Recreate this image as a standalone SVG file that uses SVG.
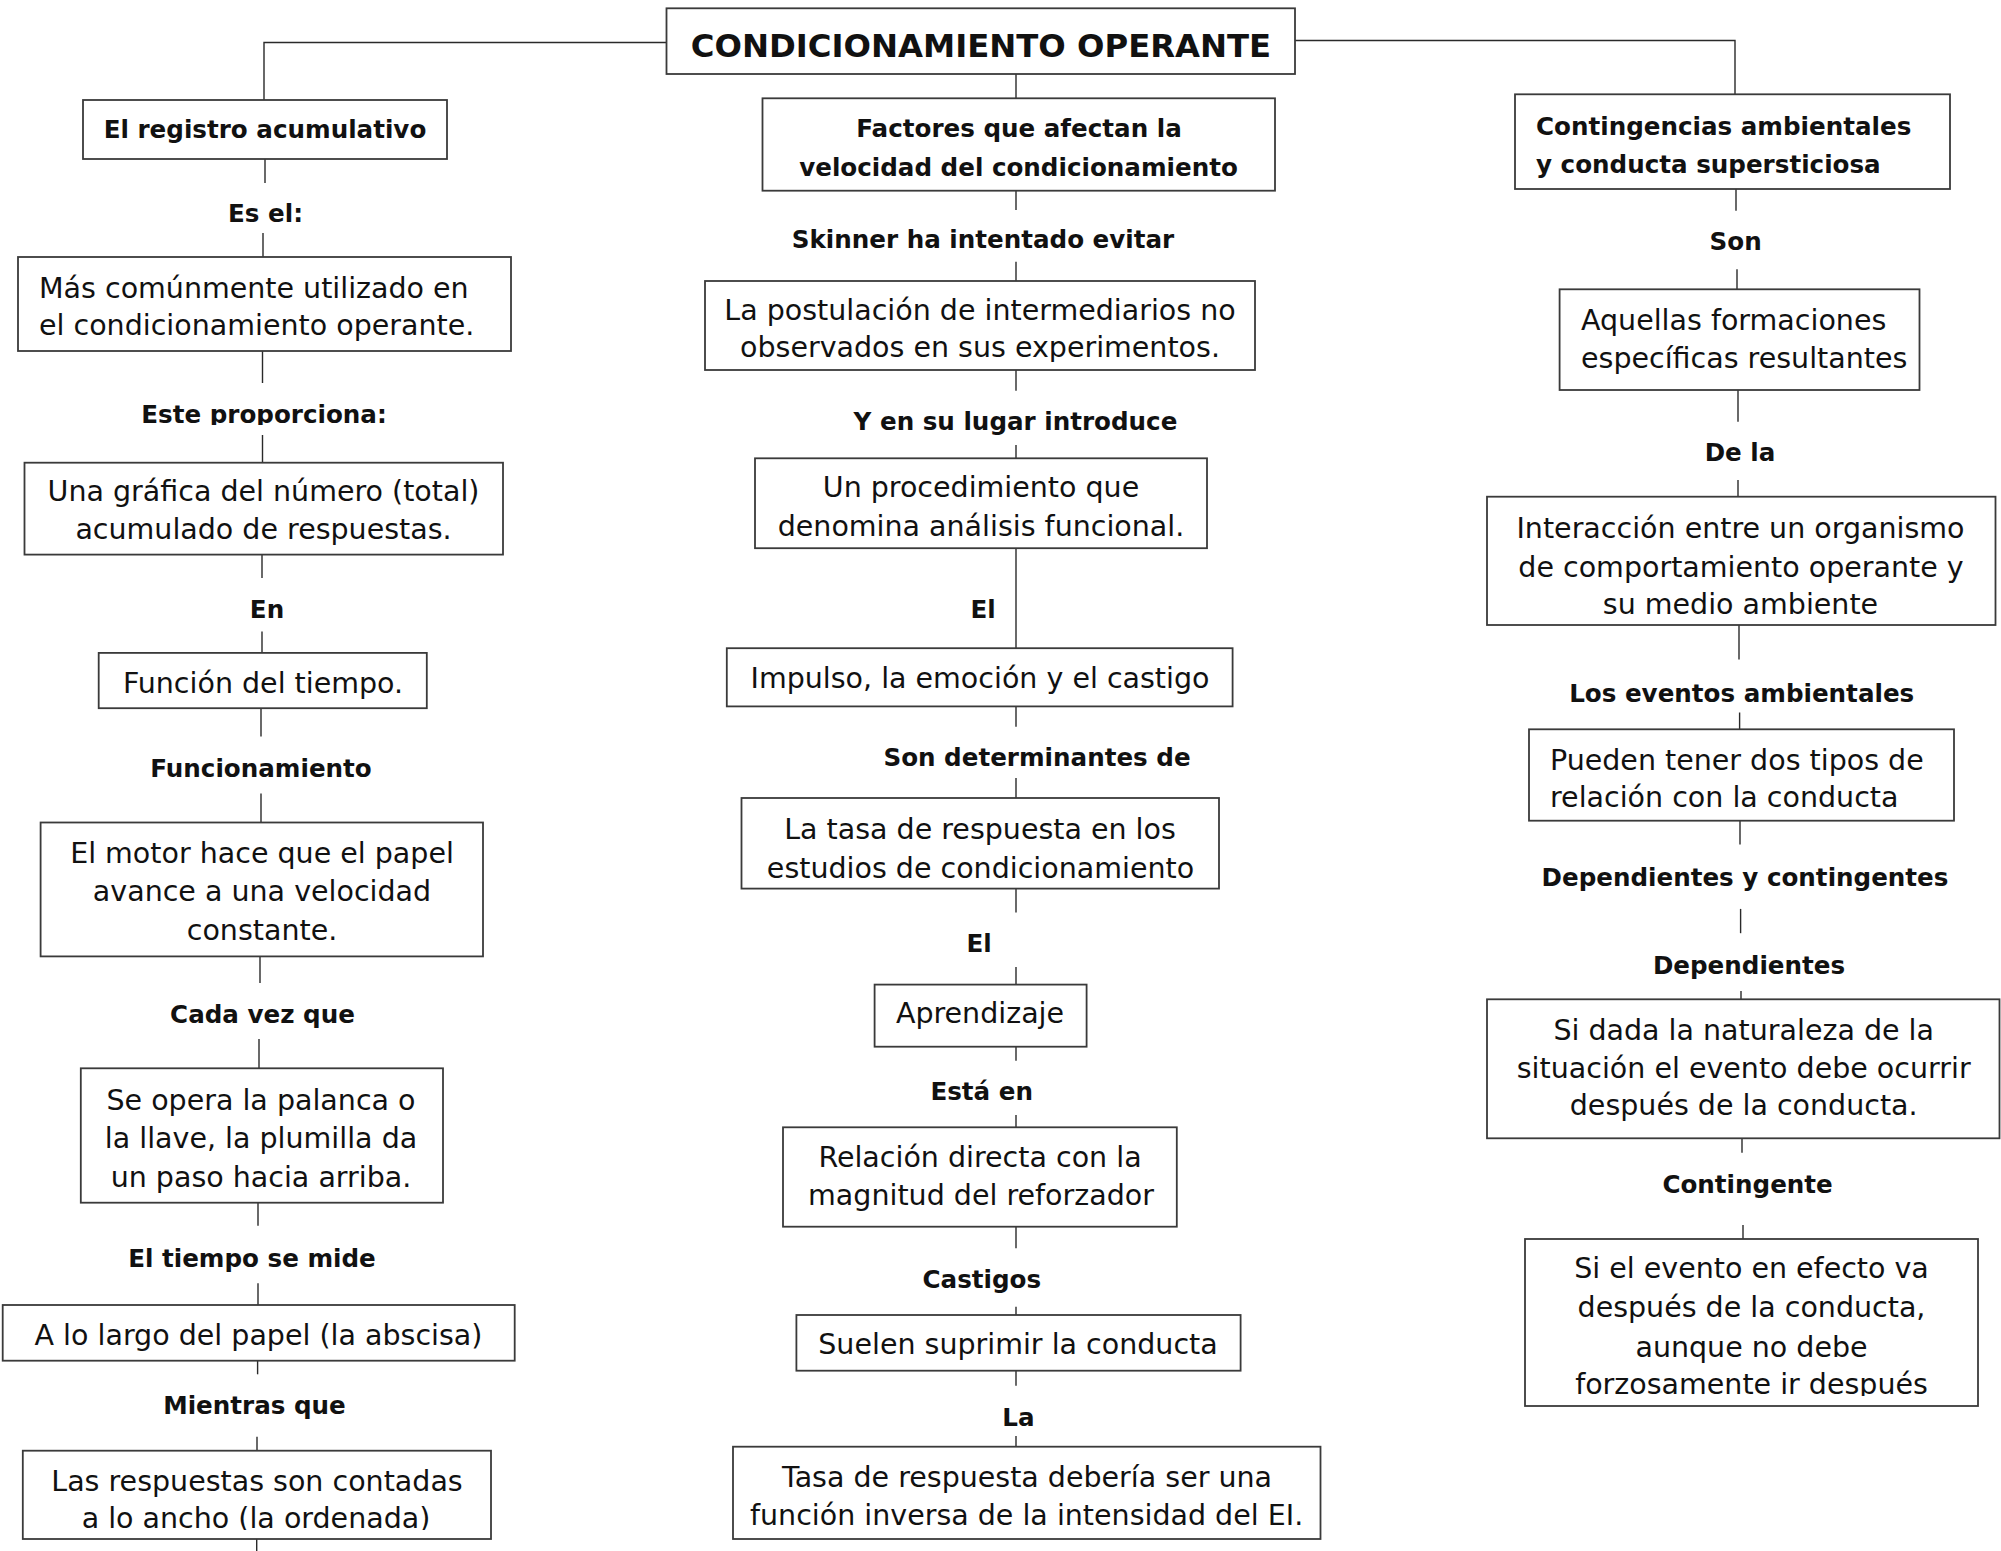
<svg xmlns="http://www.w3.org/2000/svg" width="2001" height="1551" viewBox="0 0 2001 1551">
<style>
.box{fill:#fff;stroke:#3a3a3a;stroke-width:1.8}
.r{font-family:"DejaVu Sans","Liberation Sans",sans-serif;font-size:28.5px;fill:#111}
.b{font-family:"DejaVu Sans","Liberation Sans",sans-serif;font-size:24.6px;font-weight:bold;fill:#111}
.ttl{font-family:"DejaVu Sans","Liberation Sans",sans-serif;font-size:32.3px;font-weight:bold;fill:#111}
.c{text-anchor:middle}
#connectors line,#connectors polyline{stroke:#2a2a2a;stroke-width:1.4;fill:none}
</style>
<defs>
<clipPath id="clipEste"><rect x="0" y="380" width="520" height="45"/></clipPath>
<clipPath id="clipObs"><rect x="700" y="281" width="560" height="81"/></clipPath>
<clipPath id="clipAncho"><rect x="20" y="1450" width="475" height="80"/></clipPath>
<clipPath id="clipForz"><rect x="1520" y="1239" width="460" height="157"/></clipPath>
</defs>
<rect width="2001" height="1551" fill="#fff"/>
<g id="connectors">
<polyline points="264,100 264,42.5 666.5,42.5"/>
<polyline points="1295,40.5 1735,40.5 1735,94.3"/>
<line x1="265" y1="159" x2="265" y2="183"/>
<line x1="263" y1="233" x2="263" y2="257"/>
<line x1="262.5" y1="351" x2="262.5" y2="383"/>
<line x1="262.5" y1="435" x2="262.5" y2="462.7"/>
<line x1="262" y1="554.6" x2="262" y2="578"/>
<line x1="262" y1="631.4" x2="262" y2="653"/>
<line x1="261" y1="708.2" x2="261" y2="736.4"/>
<line x1="261" y1="793.6" x2="261" y2="822.5"/>
<line x1="260" y1="956.4" x2="260" y2="983"/>
<line x1="259" y1="1039" x2="259" y2="1068.3"/>
<line x1="258" y1="1202.7" x2="258" y2="1225.7"/>
<line x1="258" y1="1283.3" x2="258" y2="1305"/>
<line x1="257.6" y1="1360.7" x2="257.6" y2="1374.3"/>
<line x1="257" y1="1436.7" x2="257" y2="1450.7"/>
<line x1="256.7" y1="1539" x2="256.7" y2="1551"/>
<line x1="1016" y1="74" x2="1016" y2="98.3"/>
<line x1="1016" y1="190.7" x2="1016" y2="210"/>
<line x1="1016" y1="261.7" x2="1016" y2="281"/>
<line x1="1016" y1="370" x2="1016" y2="390.7"/>
<line x1="1016" y1="445" x2="1016" y2="458.3"/>
<line x1="1016" y1="548.2" x2="1016" y2="648.2"/>
<line x1="1016" y1="706.4" x2="1016" y2="726.8"/>
<line x1="1016" y1="777.9" x2="1016" y2="798"/>
<line x1="1016" y1="888.6" x2="1016" y2="912.5"/>
<line x1="1016" y1="967" x2="1016" y2="984.6"/>
<line x1="1016" y1="1046.7" x2="1016" y2="1060.7"/>
<line x1="1016" y1="1115" x2="1016" y2="1127.3"/>
<line x1="1016" y1="1226.7" x2="1016" y2="1248.3"/>
<line x1="1016" y1="1306.7" x2="1016" y2="1315"/>
<line x1="1016" y1="1370.7" x2="1016" y2="1385.7"/>
<line x1="1016" y1="1436" x2="1016" y2="1446.7"/>
<line x1="1736" y1="189" x2="1736" y2="210.7"/>
<line x1="1737" y1="269.3" x2="1737" y2="289.3"/>
<line x1="1738" y1="390" x2="1738" y2="421.7"/>
<line x1="1738" y1="480" x2="1738" y2="496.7"/>
<line x1="1739" y1="625" x2="1739" y2="659.6"/>
<line x1="1739.6" y1="712.5" x2="1739.6" y2="729.3"/>
<line x1="1740" y1="820.7" x2="1740" y2="844.6"/>
<line x1="1740.6" y1="908.9" x2="1740.6" y2="933.2"/>
<line x1="1741" y1="991" x2="1741" y2="999.3"/>
<line x1="1742" y1="1138.3" x2="1742" y2="1152.7"/>
<line x1="1743" y1="1225" x2="1743" y2="1239"/>
</g>
<g id="title"><rect class="box" x="666.5" y="8.3" width="628.5" height="65.7"/><text class="ttl c" x="981" y="56.5">CONDICIONAMIENTO OPERANTE</text></g>
<!-- left column -->
<g id="n-registro"><rect class="box" x="83" y="100" width="364" height="59"/><text class="b c" x="265" y="138.3">El registro acumulativo</text></g>
<g id="l-esel"><text class="b c" x="265.5" y="221.7">Es el:</text></g>
<g id="n-mas"><rect class="box" x="18" y="257" width="493" height="94"/><text class="r" x="39" y="297.7">Más comúnmente utilizado en</text><text class="r" x="39" y="335">el condicionamiento operante.</text></g>
<g id="l-este"><text class="b c" x="264" y="422.7" clip-path="url(#clipEste)">Este proporciona:</text></g>
<g id="n-grafica"><rect class="box" x="24.5" y="462.7" width="478.5" height="91.9"/><text class="r c" x="263.5" y="501">Una gráfica del número (total)</text><text class="r c" x="263.5" y="539">acumulado de respuestas.</text></g>
<g id="l-en"><text class="b c" x="267" y="617.9">En</text></g>
<g id="n-funcion"><rect class="box" x="98.7" y="652.9" width="328.1" height="55.3"/><text class="r c" x="263" y="692.9">Función del tiempo.</text></g>
<g id="l-funcionamiento"><text class="b c" x="261" y="776.8">Funcionamiento</text></g>
<g id="n-motor"><rect class="box" x="40.6" y="822.5" width="442.4" height="133.9"/><text class="r c" x="262" y="862.5">El motor hace que el papel</text><text class="r c" x="262" y="901">avance a una velocidad</text><text class="r c" x="262" y="940.4">constante.</text></g>
<g id="l-cada"><text class="b c" x="262.5" y="1022.5">Cada vez que</text></g>
<g id="n-opera"><rect class="box" x="80.8" y="1068.3" width="362.2" height="134.4"/><text class="r c" x="261" y="1110">Se opera la palanca o</text><text class="r c" x="261" y="1148.3">la llave, la plumilla da</text><text class="r c" x="261" y="1186.7">un paso hacia arriba.</text></g>
<g id="l-tiempo"><text class="b c" x="252" y="1266.7">El tiempo se mide</text></g>
<g id="n-largo"><rect class="box" x="2.7" y="1305" width="512" height="55.7"/><text class="r c" x="258.5" y="1345">A lo largo del papel (la abscisa)</text></g>
<g id="l-mientras"><text class="b c" x="254.5" y="1414.3">Mientras que</text></g>
<g id="n-respuestas"><rect class="box" x="22.8" y="1450.7" width="468.2" height="88.3"/><text class="r c" x="257" y="1490.7">Las respuestas son contadas</text><text class="r c" x="256" y="1528.3" clip-path="url(#clipAncho)">a lo ancho (la ordenada)</text></g>
<!-- middle column -->
<g id="n-factores"><rect class="box" x="762.5" y="98.3" width="512.5" height="92.4"/><text class="b c" x="1019" y="136.7">Factores que afectan la</text><text class="b c" x="1018.5" y="175.7">velocidad del condicionamiento</text></g>
<g id="l-skinner"><text class="b c" x="983" y="248.3">Skinner ha intentado evitar</text></g>
<g id="n-postulacion"><rect class="box" x="705" y="281" width="550" height="89"/><text class="r c" x="980" y="320">La postulación de intermediarios no</text><text class="r c" x="980" y="357.3" clip-path="url(#clipObs)">observados en sus experimentos.</text></g>
<g id="l-ysu"><text class="b c" x="1015.5" y="430">Y en su lugar introduce</text></g>
<g id="n-procedimiento"><rect class="box" x="755" y="458.3" width="452" height="89.9"/><text class="r c" x="981" y="496.7">Un procedimiento que</text><text class="r c" x="981" y="535.7">denomina análisis funcional.</text></g>
<g id="l-el1"><text class="b c" x="983" y="617.9">El</text></g>
<g id="n-impulso"><rect class="box" x="726.8" y="648.2" width="505.8" height="58.2"/><text class="r c" x="980" y="687.5">Impulso, la emoción y el castigo</text></g>
<g id="l-son-det"><text class="b c" x="1037" y="766">Son determinantes de</text></g>
<g id="n-tasa1"><rect class="box" x="741.5" y="798" width="477.5" height="90.6"/><text class="r c" x="980" y="839.3">La tasa de respuesta en los</text><text class="r c" x="980.5" y="877.5">estudios de condicionamiento</text></g>
<g id="l-el2"><text class="b c" x="979" y="951.8">El</text></g>
<g id="n-aprendizaje"><rect class="box" x="874.6" y="984.6" width="212" height="62.1"/><text class="r c" x="980" y="1023.2">Aprendizaje</text></g>
<g id="l-esta"><text class="b c" x="981.7" y="1100">Está en</text></g>
<g id="n-relacion"><rect class="box" x="783" y="1127.3" width="393.8" height="99.4"/><text class="r c" x="980" y="1166.7">Relación directa con la</text><text class="r c" x="981" y="1205">magnitud del reforzador</text></g>
<g id="l-castigos"><text class="b c" x="981.8" y="1288.3">Castigos</text></g>
<g id="n-suelen"><rect class="box" x="796.4" y="1315" width="444.2" height="55.7"/><text class="r c" x="1018" y="1354.3">Suelen suprimir la conducta</text></g>
<g id="l-la"><text class="b c" x="1018.5" y="1425.7">La</text></g>
<g id="n-tasa2"><rect class="box" x="733" y="1446.7" width="587.5" height="92.3"/><text class="r c" x="1027" y="1486.7">Tasa de respuesta debería ser una</text><text class="r c" x="1026.6" y="1525">función inversa de la intensidad del EI.</text></g>
<!-- right column -->
<g id="n-contingencias"><rect class="box" x="1515" y="94.3" width="435" height="94.7"/><text class="b" x="1536" y="135">Contingencias ambientales</text><text class="b" x="1536" y="173.3">y conducta supersticiosa</text></g>
<g id="l-son"><text class="b c" x="1735.6" y="250">Son</text></g>
<g id="n-aquellas"><rect class="box" x="1559.6" y="289.3" width="359.9" height="100.7"/><text class="r" x="1581" y="330">Aquellas formaciones</text><text class="r" x="1581" y="367.7">específicas resultantes</text></g>
<g id="l-dela"><text class="b c" x="1740" y="461">De la</text></g>
<g id="n-interaccion"><rect class="box" x="1487" y="496.7" width="508.5" height="128.3"/><text class="r c" x="1740.5" y="537.5">Interacción entre un organismo</text><text class="r c" x="1741" y="576.8">de comportamiento operante y</text><text class="r c" x="1740.5" y="614.3">su medio ambiente</text></g>
<g id="l-eventos"><text class="b c" x="1741.7" y="701.8">Los eventos ambientales</text></g>
<g id="n-pueden"><rect class="box" x="1529" y="729.3" width="425" height="91.4"/><text class="r" x="1550" y="769.6">Pueden tener dos tipos de</text><text class="r" x="1550" y="807.1">relación con la conducta</text></g>
<g id="l-depcont"><text class="b c" x="1745" y="885.7">Dependientes y contingentes</text></g>
<g id="l-dep"><text class="b c" x="1749" y="974.3">Dependientes</text></g>
<g id="n-sidada"><rect class="box" x="1487" y="999.3" width="512.5" height="139"/><text class="r c" x="1743.7" y="1040.4">Si dada la naturaleza de la</text><text class="r c" x="1743.7" y="1078.3">situación el evento debe ocurrir</text><text class="r c" x="1743.7" y="1115">después de la conducta.</text></g>
<g id="l-contingente"><text class="b c" x="1747.6" y="1193.3">Contingente</text></g>
<g id="n-sievento"><rect class="box" x="1525" y="1239" width="453" height="167"/><text class="r c" x="1751.5" y="1278.3">Si el evento en efecto va</text><text class="r c" x="1751.5" y="1317.3">después de la conducta,</text><text class="r c" x="1751.5" y="1356.7">aunque no debe</text><text class="r c" x="1751.5" y="1394" clip-path="url(#clipForz)">forzosamente ir después</text></g>
</svg>
